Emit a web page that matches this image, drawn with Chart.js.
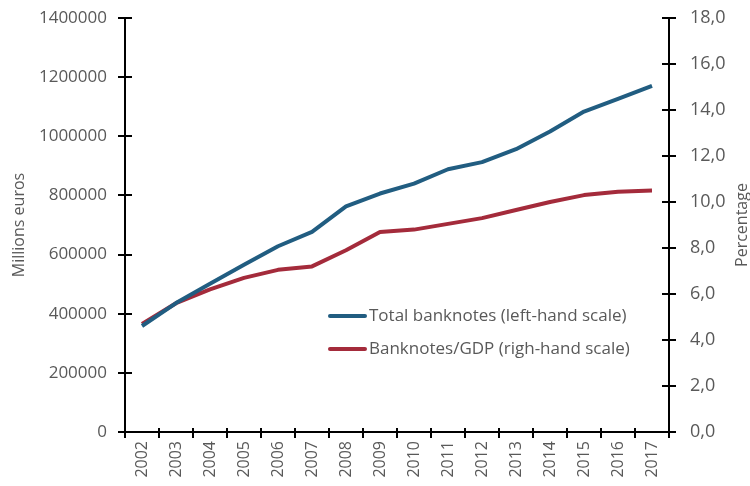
<!DOCTYPE html>
<html>
<head>
<meta charset="utf-8">
<script src="https://cdn.jsdelivr.net/npm/chart.js@4.4.0/dist/chart.umd.min.js"></script>
<style>
    html, body { margin: 0; padding: 0; background: #ffffff; }
    #wrap { width: 750px; height: 486px; }
</style>
</head>
<body>
<div id="wrap"><canvas id="banknotes" width="750" height="486"></canvas></div>
<script>
const years = ['2002', '2003', '2004', '2005', '2006', '2007', '2008', '2009',
    '2010', '2011', '2012', '2013', '2014', '2015', '2016', '2017'];

// millions of euros in circulation
const totalBanknotes = [358500, 436100, 501300, 565200, 628200, 676600, 762800, 806400,
    839700, 888600, 912600, 956200, 1016500, 1083500, 1126200, 1170700];

// banknotes as a share of GDP, %
const banknotesGdp = [4.7, 5.6, 6.2, 6.7, 7.05, 7.2, 7.9, 8.7,
    8.8, 9.05, 9.3, 9.65, 10.0, 10.3, 10.45, 10.5];

const leftTicks = [0, 200000, 400000, 600000, 800000, 1000000, 1200000, 1400000];
const rightTicks = [0, 2, 4, 6, 8, 10, 12, 14, 16, 18];

const textColor = '#595959';
const fontFamily = '"Open Sans", sans-serif';

// tick marks that cross the axis line (Chart.js only draws the outer half)
const crossTicks = {
    id: 'crossTicks',
    afterDraw(chart) {
        const ctx = chart.ctx;
        const x = chart.scales.x;
        const yl = chart.scales.y;
        const yr = chart.scales.y1;
        ctx.save();
        ctx.strokeStyle = '#000000';
        ctx.lineWidth = 2;
        ctx.beginPath();
        yl.ticks.forEach((t, i) => {
            const py = Math.round(yl.getPixelForTick(i));
            ctx.moveTo(yl.right, py);
            ctx.lineTo(yl.right + 7, py);
        });
        yr.ticks.forEach((t, i) => {
            const py = Math.round(yr.getPixelForTick(i));
            ctx.moveTo(yr.left, py);
            ctx.lineTo(yr.left - 7, py);
        });
        const half = (x.getPixelForValue(1) - x.getPixelForValue(0)) / 2;
        for (let i = 0; i <= years.length; i++) {
            const px = Math.round(x.getPixelForValue(i) - half);
            ctx.moveTo(px, x.top);
            ctx.lineTo(px, x.top - 4);
        }
        ctx.stroke();
        ctx.restore();
    }
};

// legend sits inside the plot, plus the right-hand title reading upwards
const innerLegend = {
    id: 'innerLegend',
    afterDraw(chart) {
        const ctx = chart.ctx;
        const area = chart.chartArea;
        ctx.save();
        ctx.font = '17px ' + fontFamily;
        ctx.textBaseline = 'middle';
        chart.data.datasets.forEach((ds, i) => {
            const y = area.top + 298 + i * 33;
            const x0 = area.left + 205;
            ctx.strokeStyle = ds.borderColor;
            ctx.lineWidth = 4;
            ctx.lineCap = 'round';
            ctx.beginPath();
            ctx.moveTo(x0, y);
            ctx.lineTo(x0 + 35, y);
            ctx.stroke();
            ctx.fillStyle = textColor;
            ctx.fillText(ds.label, x0 + 39, y);
        });

        ctx.font = '16px ' + fontFamily;
        ctx.translate(742, (area.top + area.bottom) / 2);
        ctx.rotate(-Math.PI / 2);
        ctx.textAlign = 'center';
        ctx.fillStyle = textColor;
        ctx.fillText('Percentage', 0, 0);
        ctx.restore();
    }
};

// fixed axis widths; no extra room reserved above the top tick label
function fixWidth(width) {
    return function (scale) {
        scale.width = width;
        scale.paddingTop = 0;
        scale.paddingBottom = 0;
    };
}

function drawChart(canvasId) {
    let canvas = document.getElementById(canvasId);
    if (!canvas)
        return;

    return new Chart(canvas, {
        type: 'line',
        data: {
            labels: years,
            datasets: [
                {
                    label: 'Total banknotes (left-hand scale)',
                    data: totalBanknotes,
                    borderColor: '#215d81',
                    yAxisID: 'y'
                },
                {
                    label: 'Banknotes/GDP (righ-hand scale)',
                    data: banknotesGdp,
                    borderColor: '#a42b3b',
                    yAxisID: 'y1'
                }
            ]
        },
        options: {
            responsive: false,
            animation: false,
            layout: {
                padding: { top: 18, left: 0, right: 0, bottom: 0 }
            },
            datasets: {
                line: {
                    borderWidth: 4,
                    tension: 0,
                    pointRadius: 0,
                    pointHoverRadius: 0,
                    borderCapStyle: 'butt',
                    borderJoinStyle: 'round'
                }
            },
            plugins: {
                legend: { display: false },
                tooltip: { enabled: false }
            },
            scales: {
                x: {
                    offset: true,
                    border: { color: '#000000', width: 2 },
                    grid: {
                        offset: true,
                        drawOnChartArea: false,
                        color: '#000000',
                        lineWidth: 2,
                        tickLength: 6
                    },
                    ticks: {
                        color: textColor,
                        font: { family: fontFamily, size: 16 },
                        maxRotation: 90,
                        minRotation: 90,
                        padding: 3
                    },
                    afterFit(scale) {
                        scale.height = 54;
                        scale.paddingLeft = 0;
                        scale.paddingRight = 0;
                    }
                },
                y: {
                    position: 'left',
                    min: 0,
                    max: 1400000,
                    afterBuildTicks(scale) {
                        scale.ticks = leftTicks.map(v => ({ value: v }));
                    },
                    border: { color: '#000000', width: 2 },
                    grid: {
                        drawOnChartArea: false,
                        color: '#000000',
                        lineWidth: 2,
                        tickLength: 7
                    },
                    ticks: {
                        color: textColor,
                        font: { family: fontFamily, size: 17 },
                        padding: 11,
                        callback: v => String(v)
                    },
                    title: {
                        display: true,
                        text: 'Millions euros',
                        color: textColor,
                        font: { family: fontFamily, size: 16 },
                        padding: { top: 10, bottom: 0 }
                    },
                    afterFit: fixWidth(125)
                },
                y1: {
                    position: 'right',
                    min: 0,
                    max: 18,
                    afterBuildTicks(scale) {
                        scale.ticks = rightTicks.map(v => ({ value: v }));
                    },
                    border: { color: '#000000', width: 2 },
                    grid: {
                        drawOnChartArea: false,
                        color: '#000000',
                        lineWidth: 2,
                        tickLength: 7
                    },
                    ticks: {
                        color: textColor,
                        font: { family: fontFamily, size: 18 },
                        padding: 14,
                        callback: v => v.toFixed(1).replace('.', ',')
                    },
                    afterFit: fixWidth(81)
                }
            }
        },
        plugins: [crossTicks, innerLegend]
    });
}

drawChart('banknotes');
</script>
</body>
</html>
